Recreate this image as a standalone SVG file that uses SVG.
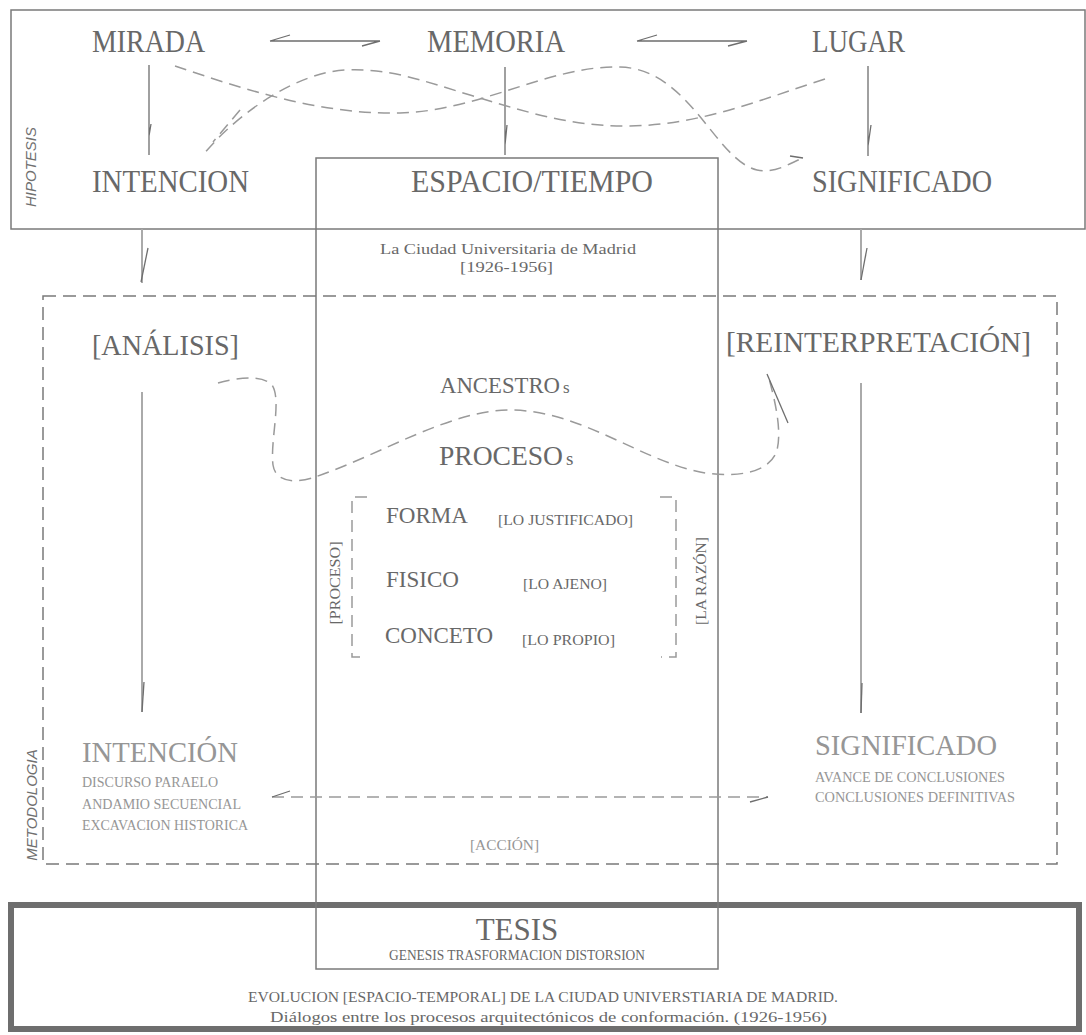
<svg xmlns="http://www.w3.org/2000/svg" width="1086" height="1035" viewBox="0 0 1086 1035">
<style>
text{font-family:"Liberation Serif","DejaVu Serif",serif;fill:#686868}
.big{font-size:32px}
.mid{font-size:29px}
.sm{font-size:14px}
.lt{fill:#969696}
.side{font-family:"Liberation Sans","DejaVu Sans",sans-serif;font-style:italic;font-size:15px;fill:#707070}
.box{fill:none;stroke:#7a7a7a;stroke-width:1.5}
.dbox{fill:none;stroke:#7a7a7a;stroke-width:1.5;stroke-dasharray:13 7}
.ln{fill:none;stroke:#6e6e6e;stroke-width:1.3}
.lnl{fill:none;stroke:#aaaaaa;stroke-width:2}
.dc{fill:none;stroke:#9a9a9a;stroke-width:1.5;stroke-dasharray:12 7}
</style>
<rect width="1086" height="1035" fill="#ffffff"/>

<g id="frames">
<rect id="hipotesis-box" class="box" x="11" y="10" width="1074" height="219"/>
<rect id="metodologia-box" class="dbox" x="43" y="296" width="1014" height="568"/>
<rect id="tesis-box" fill="none" stroke="#6e6e6e" stroke-width="6" x="11" y="905" width="1068" height="124"/>
<rect id="espacio-box" class="box" x="316" y="158" width="402" height="811"/>
</g>

<g id="connectors">
<path class="ln" d="M270,41 H380 M270,41 L290,35 M380,41 L362,46"/>
<path class="ln" d="M637,41 H747 M637,41 L657,35 M747,41 L728,46"/>
<path class="ln" d="M149,65 V155 M151,124 L149,136"/>
<path class="ln" d="M505,67 V155 M507,125 L505,145"/>
<path class="ln" d="M868,66 V156 M871,125 L868,146"/>
<path class="lnl" d="M142,229 V283"/>
<path class="ln" d="M148,248 L141,282"/>
<path class="lnl" d="M861,229 V280"/>
<path class="ln" d="M867,248 L861,280"/>
<path class="lnl" d="M142,392 V712"/>
<path class="ln" d="M144,682 L142,712"/>
<path class="lnl" d="M861,383 V713"/>
<path class="ln" d="M862,683 L861,713"/>
<path class="dc" d="M175,66 C240,88 320,115 400,113 C480,111 550,65 620,67 C690,69 715,160 757,170 C775,174 790,163 803,158"/>
<path class="ln" stroke="#8a8a8a" d="M803,158 L790,156"/>
<path class="dc" d="M825,79 C760,100 700,125 630,126 C570,127 520,110 470,95 C420,80 390,68 345,70 C300,72 240,110 203,155"/>
<path class="dc" d="M240,110 L213,142"/>
<path class="dc" d="M218,383 C235,378 262,374 272,385 C282,400 270,440 273,465 C276,485 300,482 315,477 C380,455 450,410 510,410 C580,410 640,460 700,472 C730,478 770,475 777,450 C782,430 775,400 768,375"/>
<path class="ln" d="M767,374 L788,423"/>
<path class="dc" stroke="#888" d="M272,797 H768"/>
<path class="ln" d="M272,797 L290,791 M768,797 L750,802"/>
<path class="dc" stroke="#888" stroke-dasharray="10 6" d="M367,497 H352 V657 H367"/>
<path class="dc" stroke="#888" stroke-dasharray="10 6" d="M660,497 H676 V657 H661"/>
</g>

<g id="labels-side">
<text class="side" transform="translate(36,167) rotate(-90)" text-anchor="middle">HIPOTESIS</text>
<text class="side" transform="translate(37,805) rotate(-90)" text-anchor="middle">METODOLOGIA</text>
</g>

<g id="node-mirada"><text class="big" x="92" y="52" textLength="113" lengthAdjust="spacingAndGlyphs">MIRADA</text></g>
<g id="node-memoria"><text class="big" x="427" y="52" textLength="138" lengthAdjust="spacingAndGlyphs">MEMORIA</text></g>
<g id="node-lugar"><text class="big" x="812" y="52" textLength="93" lengthAdjust="spacingAndGlyphs">LUGAR</text></g>
<g id="node-intencion"><text class="big" x="92" y="192" textLength="157" lengthAdjust="spacingAndGlyphs">INTENCION</text></g>
<g id="node-espacio">
<text class="big" x="411" y="192" textLength="242" lengthAdjust="spacingAndGlyphs">ESPACIO/TIEMPO</text>
<text class="sm" x="380" y="254" textLength="256" lengthAdjust="spacingAndGlyphs">La Ciudad Universitaria de Madrid</text>
<text class="sm" x="460" y="272" textLength="93" lengthAdjust="spacingAndGlyphs">[1926-1956]</text>
</g>
<g id="node-significado"><text class="big" x="812" y="192" textLength="180" lengthAdjust="spacingAndGlyphs">SIGNIFICADO</text></g>

<g id="node-analisis"><text class="mid" x="92" y="355" textLength="147" lengthAdjust="spacingAndGlyphs">[ANÁLISIS]</text></g>
<g id="node-reinterpretacion"><text class="mid" x="726" y="352" textLength="305" lengthAdjust="spacingAndGlyphs">[REINTERPRETACIÓN]</text></g>

<g id="node-ancestros">
<text font-size="23" x="440" y="393" textLength="120" lengthAdjust="spacingAndGlyphs">ANCESTRO</text>
<text font-size="17" x="563" y="393">s</text>
</g>
<g id="node-procesos">
<text font-size="27.5" x="439" y="465" textLength="124" lengthAdjust="spacingAndGlyphs">PROCESO</text>
<text font-size="19" x="566" y="465">s</text>
</g>

<g id="node-proceso-bracket">
<text font-size="23" x="386" y="523" textLength="82" lengthAdjust="spacingAndGlyphs">FORMA</text>
<text class="sm" x="498" y="525" textLength="135" lengthAdjust="spacingAndGlyphs">[LO JUSTIFICADO]</text>
<text font-size="23" x="386" y="587" textLength="73" lengthAdjust="spacingAndGlyphs">FISICO</text>
<text class="sm" x="523" y="589" textLength="84" lengthAdjust="spacingAndGlyphs">[LO AJENO]</text>
<text font-size="23" x="385" y="643" textLength="108" lengthAdjust="spacingAndGlyphs">CONCETO</text>
<text class="sm" x="522" y="645" textLength="93" lengthAdjust="spacingAndGlyphs">[LO PROPIO]</text>
<text class="sm" transform="translate(340,583) rotate(-90)" text-anchor="middle" textLength="83" lengthAdjust="spacingAndGlyphs">[PROCESO]</text>
<text class="sm" transform="translate(706,581) rotate(-90)" text-anchor="middle" textLength="88" lengthAdjust="spacingAndGlyphs">[LA RAZÓN]</text>
</g>

<g id="node-intencion-met">
<text class="lt" font-size="29" x="82" y="762" textLength="156" lengthAdjust="spacingAndGlyphs">INTENCIÓN</text>
<text class="lt sm" x="82" y="787" textLength="136" lengthAdjust="spacingAndGlyphs">DISCURSO PARAELO</text>
<text class="lt sm" x="82" y="809" textLength="159" lengthAdjust="spacingAndGlyphs">ANDAMIO SECUENCIAL</text>
<text class="lt sm" x="82" y="830" textLength="166" lengthAdjust="spacingAndGlyphs">EXCAVACION HISTORICA</text>
</g>
<g id="node-significado-met">
<text class="lt" font-size="29" x="815" y="755" textLength="182" lengthAdjust="spacingAndGlyphs">SIGNIFICADO</text>
<text class="lt sm" x="815" y="782" textLength="190" lengthAdjust="spacingAndGlyphs">AVANCE DE CONCLUSIONES</text>
<text class="lt sm" x="815" y="802" textLength="200" lengthAdjust="spacingAndGlyphs">CONCLUSIONES DEFINITIVAS</text>
</g>
<g id="node-accion"><text class="lt sm" x="470" y="850" textLength="69" lengthAdjust="spacingAndGlyphs">[ACCIÓN]</text></g>

<g id="node-tesis">
<text font-size="31" x="517" y="940" text-anchor="middle">TESIS</text>
<text class="sm" font-size="12" x="517" y="960" text-anchor="middle" textLength="256" lengthAdjust="spacingAndGlyphs">GENESIS  TRASFORMACION  DISTORSION</text>
<text class="sm" x="248" y="1002" textLength="590" lengthAdjust="spacingAndGlyphs">EVOLUCION [ESPACIO-TEMPORAL] DE LA CIUDAD UNIVERSTIARIA DE MADRID.</text>
<text class="sm" x="270" y="1022" textLength="557" lengthAdjust="spacingAndGlyphs">Diálogos entre los procesos arquitectónicos de conformación. (1926-1956)</text>
</g>
</svg>
